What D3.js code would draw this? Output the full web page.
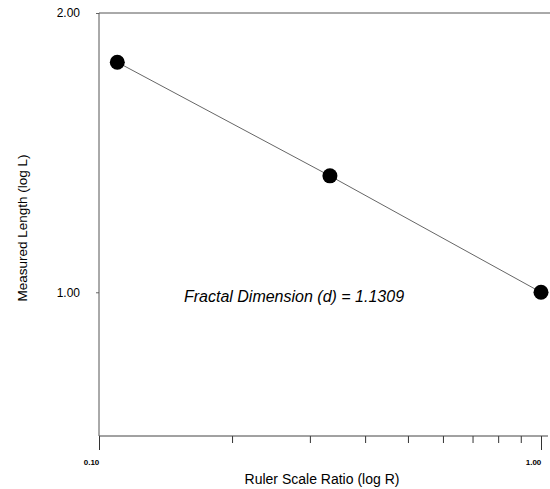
<!DOCTYPE html>
<html>
	<head>
		<title>Fractal Dimension</title>
		<style>
			body, html { margin: 0; padding: 0; background: #fff; }
			svg { display: block; font-family: 'Liberation Sans', Arial, sans-serif; }
		</style>
	</head>
	<body>

		<svg id="svg" width="550" height="489"></svg>

		<script src="https://d3js.org/d3.v7.min.js"></script>
		<script>
			// Ruler scale ratio (R) and measured length (L), both
			const ratios = [0.11, 0.333, 1.0]
			const lengths = [1.77, 1.335, 1.0]

			// tick values
			const xTicks = [0.1, 0.2, 0.3, 0.4, 0.5, 0.6, 0.7, 0.8, 0.9, 1.0]
			const xLabelled = [0.1, 1.0]
			const yTicks = [1, 2]

			const note = 'Fractal Dimension (d) = 1.1309'

			const svg = d3.select('#svg')
			const width = 550
			const plotLeft = 99, plotRight = 541, plotTop = 13, plotBottom = 436

			const x = d3.scaleLog().domain([0.1, 1]).range([plotLeft, plotRight])
			const y = d3.scaleLog().domain([0.7, 2]).range([plotBottom, plotTop])

			// frame lines (top and bottom run past the last tick to the edge)
			svg.append('line')
				.attr('x1', plotLeft).attr('x2', width)
				.attr('y1', plotTop).attr('y2', plotTop)
				.attr('stroke', '#555').attr('stroke-width', 1)

			// x axis
			const xAxis = svg.append('g')
				.attr('transform', `translate(0, ${plotBottom})`)
				.call(d3.axisBottom(x)
					.tickValues(xTicks)
					.tickSize(7)
					.tickFormat(d => xLabelled.includes(d) ? d3.format('.2f')(d) : ''))
			xAxis.select('.domain').remove()
			xAxis.selectAll('.tick line')
				.attr('stroke', '#333')
				.attr('y2', d => xLabelled.includes(d) ? 14 : 7)
			xAxis.selectAll('.tick text')
				.attr('y', 23)
				.attr('dx', -8)
				.attr('font-size', 8)
				.attr('font-weight', 'bold')
				.attr('fill', '#000')
			svg.append('line')
				.attr('x1', plotLeft).attr('x2', width - 2)
				.attr('y1', plotBottom).attr('y2', plotBottom)
				.attr('stroke', '#444').attr('stroke-width', 1)

			// y axis
			const yAxis = svg.append('g')
				.attr('transform', `translate(${plotLeft}, 0)`)
				.call(d3.axisLeft(y)
					.tickValues(yTicks)
					.tickSize(3)
					.tickPadding(16)
					.tickFormat(d3.format('.2f')))
			yAxis.select('.domain').remove()
			yAxis.selectAll('.tick line').attr('stroke', '#666')
			yAxis.selectAll('.tick text')
				.attr('font-size', 12)
				.attr('fill', '#000')
			svg.append('line')
				.attr('x1', plotLeft).attr('x2', plotLeft)
				.attr('y1', plotTop).attr('y2', plotBottom)
				.attr('stroke', '#555').attr('stroke-width', 1)

			// connecting line
			const pts = ratios.map((r, i) => [r, lengths[i]])
			svg.append('path')
				.datum(pts)
				.attr('fill', 'none')
				.attr('stroke', '#666')
				.attr('stroke-width', 1)
				.attr('d', d3.line().x(d => x(d[0])).y(d => y(d[1])))

			// points
			svg.append('g')
				.selectAll('circle')
				.data(pts)
				.enter()
				.append('circle')
				.attr('cx', d => x(d[0]))
				.attr('cy', d => y(d[1]))
				.attr('r', 7.5)
				.attr('fill', '#000')

			// annotation
			svg.append('text')
				.attr('x', 294)
				.attr('y', 302)
				.attr('text-anchor', 'middle')
				.attr('font-size', 16)
				.attr('font-style', 'italic')
				.attr('fill', '#000')
				.text(note)

			// axis titles
			svg.append('text')
				.attr('x', 322)
				.attr('y', 484)
				.attr('text-anchor', 'middle')
				.attr('font-size', 14)
				.attr('fill', '#000')
				.text('Ruler Scale Ratio (log R)')

			svg.append('text')
				.attr('transform', 'translate(27, 228) rotate(-90)')
				.attr('text-anchor', 'middle')
				.attr('font-size', 13.5)
				.attr('fill', '#000')
				.text('Measured Length (log L)')
		</script>
	</body>
</html>
